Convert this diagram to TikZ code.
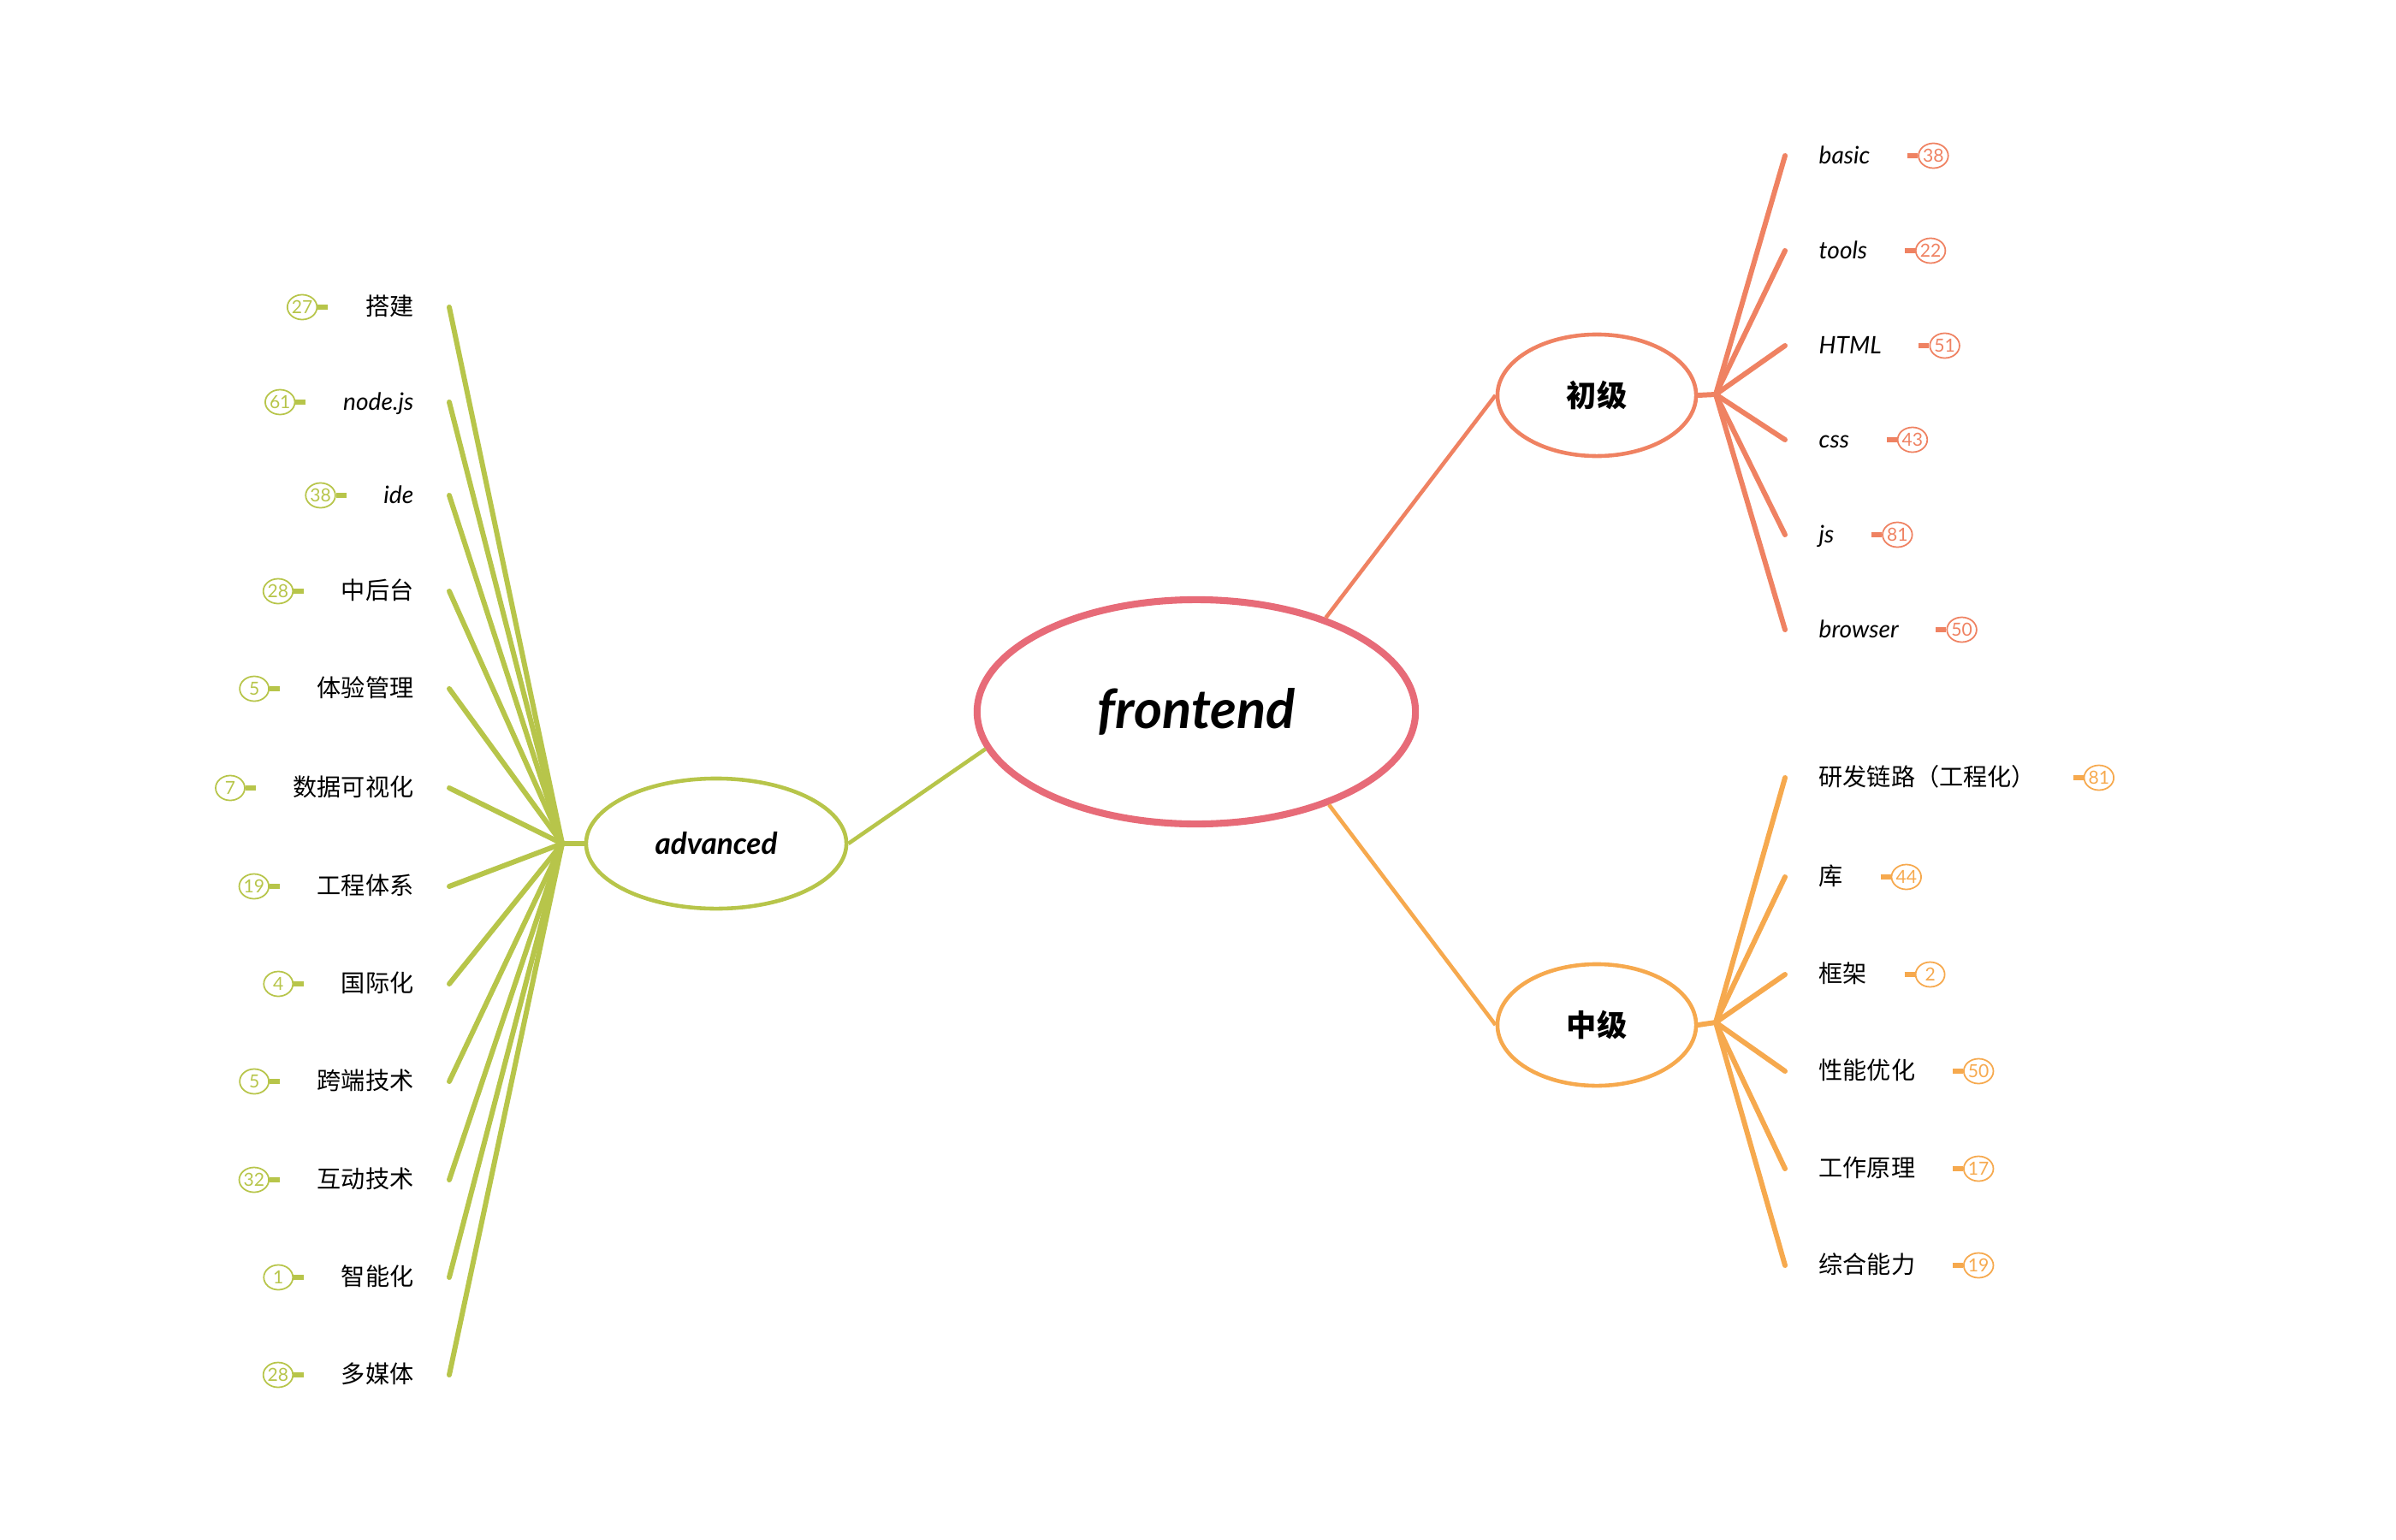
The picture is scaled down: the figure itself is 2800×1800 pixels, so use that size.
\documentclass[tikz,border=0pt]{standalone}
\usepackage{fontspec}
\setmainfont{Lato}
\newfontfamily\cjk{Noto Sans CJK SC}
\usepackage{xcolor}
\usepackage{tikz}
\usetikzlibrary{shapes.geometric,positioning}

\definecolor{rootred}{HTML}{E76B78}
\definecolor{basiccoral}{HTML}{EF8262}
\definecolor{midorange}{HTML}{F6A94E}
\definecolor{advgreen}{HTML}{B7C54A}

\begin{document}
\begin{tikzpicture}[x=0.01cm,y=-0.01cm]
        % Redefine some styles
        \tikzstyle{root} = [ellipse, draw=rootred, line width=2.3pt, inner sep=0pt,
        minimum width=5.12cm, minimum height=2.62cm,
        font=\fontsize{18}{18}\selectfont\bfseries\itshape]
        \tikzstyle{topic} = [ellipse, line width=1.3pt, inner sep=0pt,
        minimum width=2.32cm, minimum height=1.42cm,
        font=\cjk\fontsize{10}{10}\selectfont\bfseries]
        \tikzstyle{leaf} = [inner sep=0pt, text height=6.8pt, text depth=1.2pt,
        font=\fontsize{8}{8}\selectfont]
        \tikzstyle{badge} = [ellipse, draw, line width=0.5pt, inner sep=0pt,
        minimum width=0.34cm, minimum height=0.29cm, font=\fontsize{6}{6}\selectfont]
        \tikzstyle{branch} = [line width=1.7pt, line cap=round]
        \tikzstyle{stem} = [line width=1.5pt]

        \useasboundingbox (0,0) rectangle (2800,1800);

        % Nodes
        \node (frontend)  [root]                       at (1398,832)  {frontend};
        \node (chuji)     [topic, draw=basiccoral]     at (1866,462)  {初级};
        \node (zhongji)   [topic, draw=midorange]      at (1866,1198) {中级};
        \node (adv)       [topic, draw=advgreen, minimum width=3.04cm, minimum height=1.52cm,
                           font=\fontsize{10}{10}\selectfont\bfseries\itshape] at (837,986) {advanced};

        \coordinate (chuji-hub)   at (2005,461);
        \coordinate (zhongji-hub) at (2005,1195);
        \coordinate (adv-hub)     at (657,986);

        % Edges
        \draw [basiccoral, line width=1.3pt] (frontend.36.9)  -- (chuji.west);
        \draw [midorange, line width=1.3pt]  (frontend.-35.6) -- (zhongji.west);
        \draw [advgreen, line width=1.3pt]   (frontend.190)   -- (adv.east);
        \draw [branch, basiccoral] (chuji.east)   -- (chuji-hub);
        \draw [branch, midorange]  (zhongji.east) -- (zhongji-hub);
        \draw [branch, advgreen]   (adv.west)     -- (adv-hub);

        % Leaves: basic
        \foreach \i/\y/\txt/\num in {1/182/{\itshape basic}/38, 2/293/{\itshape tools}/22,
                3/404/{\itshape HTML}/51, 4/514/{\itshape css}/43, 5/625/{\itshape js}/81,
                6/736/{\itshape browser}/50} {
            \coordinate (b\i-end) at (2086,\y);
            \node (b\i) [leaf, anchor=west] at (2125,\y) {\txt};
            \node (b\i-badge) [badge, draw=basiccoral, text=basiccoral, right=0.55cm of b\i] {\num};
            \coordinate [left=0.12cm of b\i-badge] (b\i-stem);
            \draw [branch, basiccoral] (chuji-hub) -- (b\i-end);
            \draw [stem, basiccoral] (b\i-stem) -- (b\i-badge);
        }

        % Leaves: middle
        \foreach \i/\y/\txt/\num in {1/909/研发链路（工程化）/81, 2/1025/库/44, 3/1139/框架/2,
                4/1252/性能优化/50, 5/1366/工作原理/17, 6/1479/综合能力/19} {
            \coordinate (m\i-end) at (2086,\y);
            \node (m\i) [leaf, anchor=west, font=\cjk\fontsize{8}{8}\selectfont] at (2125,\y) {\txt};
            \node (m\i-badge) [badge, draw=midorange, text=midorange, right=0.55cm of m\i] {\num};
            \coordinate [left=0.12cm of m\i-badge] (m\i-stem);
            \draw [branch, midorange] (zhongji-hub) -- (m\i-end);
            \draw [stem, midorange] (m\i-stem) -- (m\i-badge);
        }

        % Leaves: advanced
        \foreach \i/\y/\txt/\num in {1/359/{\cjk 搭建}/27, 2/470/{\itshape node.js}/61,
                3/579/{\itshape ide}/38, 4/691/{\cjk 中后台}/28, 5/805/{\cjk 体验管理}/5,
                6/921/{\cjk 数据可视化}/7, 7/1036/{\cjk 工程体系}/19, 8/1150/{\cjk 国际化}/4,
                9/1264/{\cjk 跨端技术}/5, 10/1379/{\cjk 互动技术}/32, 11/1493/{\cjk 智能化}/1,
                12/1607/{\cjk 多媒体}/28} {
            \coordinate (a\i-end) at (525,\y);
            \node (a\i) [leaf, anchor=east] at (484,\y) {\txt};
            \node (a\i-badge) [badge, draw=advgreen, text=advgreen, left=0.55cm of a\i] {\num};
            \coordinate [right=0.12cm of a\i-badge] (a\i-stem);
            \draw [branch, advgreen] (adv-hub) -- (a\i-end);
            \draw [stem, advgreen] (a\i-stem) -- (a\i-badge);
        }

    \end{tikzpicture}
\end{document}
